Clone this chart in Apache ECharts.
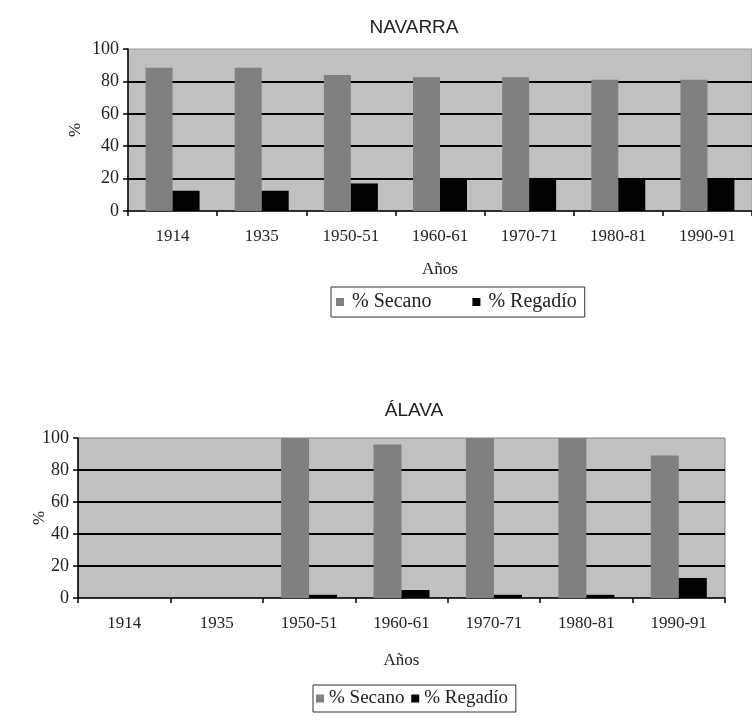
<!DOCTYPE html>
<html>
<head>
<meta charset="utf-8">
<script src="https://cdn.jsdelivr.net/npm/echarts@6/dist/echarts.min.js"></script>
<style>
  html, body { margin: 0; padding: 0; background: #fff; }
  #chart { width: 752px; height: 723px; }
</style>
</head>
<body>
<div id="chart"></div>
<script>
// Periods shown on both panels
const periods = ['1914', '1935', '1950-51', '1960-61', '1970-71', '1980-81', '1990-91'];

// Navarra: share of dry and irrigated farmland (%)
const navarraSecano = [88.5, 88.5, 84, 82.5, 82.5, 81, 81];
const navarraRegadio = [12.5, 12.5, 17, 19.5, 19.5, 20, 20];

// Álava: no figures for 1914 and 1935
const alavaSecano = [null, null, 100, 96, 100, 100, 89];
const alavaRegadio = [null, null, 2, 5, 2, 2, 12.5];

const yTicks = [0, 20, 40, 60, 80, 100];

const SERIF = '"Liberation Serif", "DejaVu Serif", serif';
const SANS = '"Liberation Sans", Arial, sans-serif';
const C_SECANO = '#808080';
const C_REGADIO = '#000000';

function xAxisFor(gridIndex, nameGap) {
  return {
    type: 'category',
    gridIndex: gridIndex,
    data: periods,
    name: 'Años',
    nameLocation: 'middle',
    nameGap: nameGap,
    nameMoveOverlap: false,
    nameTextStyle: { fontFamily: SERIF, fontSize: 17, color: '#222' },
    axisLine: { lineStyle: { color: '#000', width: 1.5 } },
    axisTick: { show: true, length: 5, lineStyle: { color: '#000', width: 1.5 } },
    axisLabel: { margin: 17, fontFamily: SERIF, fontSize: 17, color: '#222' },
    splitLine: { show: false }
  };
}

function yAxisFor(gridIndex, nameGap) {
  return {
    type: 'value',
    gridIndex: gridIndex,
    min: 0,
    max: 100,
    interval: 20,
    name: '%',
    nameLocation: 'middle',
    nameRotate: 90,
    nameGap: nameGap,
    nameMoveOverlap: false,
    nameTextStyle: { fontFamily: SERIF, fontSize: 17, color: '#222' },
    axisLine: { show: true, lineStyle: { color: '#000', width: 1.5 } },
    axisTick: { show: true, length: 5, lineStyle: { color: '#000', width: 1.5 } },
    axisLabel: {
      margin: 9, fontFamily: SERIF, fontSize: 18, color: '#222',
      formatter: v => yTicks.includes(v) ? String(v) : ''
    },
    splitLine: { show: true, showMinLine: false, showMaxLine: false, lineStyle: { color: '#000', width: 2 } }
  };
}

function barSeries(name, data, color, xi, width) {
  return {
    type: 'bar',
    name: name,
    xAxisIndex: xi,
    yAxisIndex: xi,
    data: data,
    barWidth: width,
    barGap: '0%',
    itemStyle: { color: color },
    emphasis: { disabled: true },
    animation: false
  };
}

const chart = echarts.init(document.getElementById('chart'), null, { renderer: 'canvas' });

chart.setOption({
  backgroundColor: '#ffffff',
  animation: false,
  title: [
    { text: 'NAVARRA', left: 409, top: 13, textAlign: 'center',
      textStyle: { fontFamily: SANS, fontSize: 19, fontWeight: 'normal', color: '#222' } },
    { text: 'ÁLAVA', left: 409, top: 396, textAlign: 'center',
      textStyle: { fontFamily: SANS, fontSize: 19, fontWeight: 'normal', color: '#222' } }
  ],
  legend: [
    {
      data: ['% Secano', '% Regadío'],
      left: 331, top: 287,
      orient: 'horizontal',
      itemWidth: 8, itemHeight: 8, itemGap: 41,
      icon: 'rect',
      padding: [5, 8, 5, 5],
      borderColor: '#333', borderWidth: 1,
      textStyle: { fontFamily: SERIF, fontSize: 20, color: '#222', padding: [0, 0, 0, 3] },
      selectedMode: false
    },
    {
      data: ['% Secano ', '% Regadío '],
      left: 313, top: 685,
      orient: 'horizontal',
      itemWidth: 8, itemHeight: 8, itemGap: 2,
      icon: 'rect',
      padding: [4, 3, 4, 3],
      borderColor: '#333', borderWidth: 1,
      textStyle: { fontFamily: SERIF, fontSize: 19, color: '#222' },
      selectedMode: false
    }
  ],
  grid: [
    { left: 128, top: 49, width: 626, height: 162, show: true,
      backgroundColor: '#c0c0c0', borderColor: '#9a9a9a', borderWidth: 1 },
    { left: 78, top: 438, width: 647, height: 160, show: true,
      backgroundColor: '#c0c0c0', borderColor: '#808080', borderWidth: 1 }
  ],
  xAxis: [xAxisFor(0, 50), xAxisFor(1, 54)],
  yAxis: [yAxisFor(0, 44), yAxisFor(1, 30)],
  series: [
    barSeries('% Secano', navarraSecano, C_SECANO, 0, 27),
    barSeries('% Regadío', navarraRegadio, C_REGADIO, 0, 27),
    barSeries('% Secano ', alavaSecano, C_SECANO, 1, 28),
    barSeries('% Regadío ', alavaRegadio, C_REGADIO, 1, 28)
  ]
});
</script>
</body>
</html>
